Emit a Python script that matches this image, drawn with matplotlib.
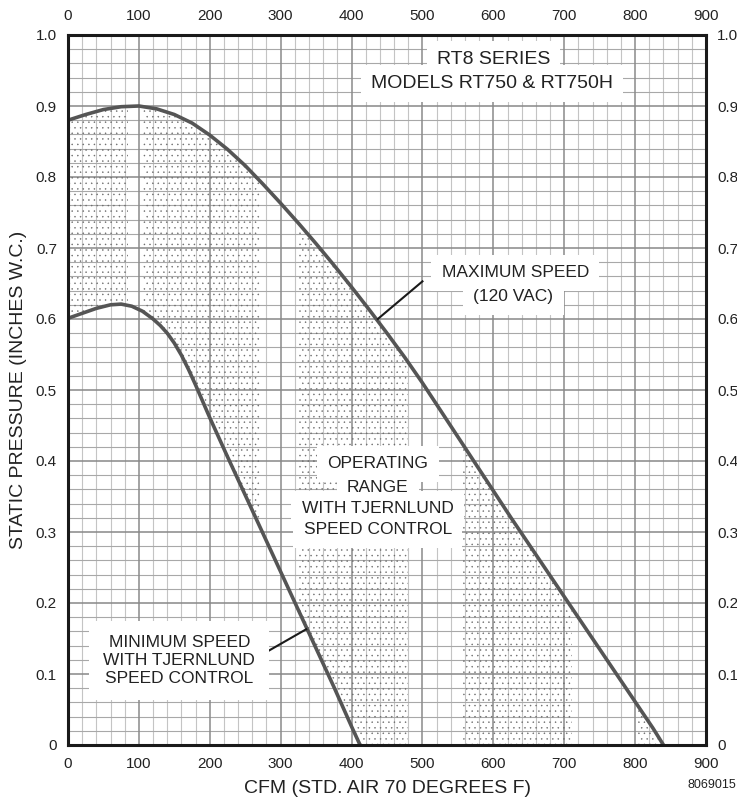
import numpy as np
import matplotlib
matplotlib.use("Agg")
import matplotlib.pyplot as plt
from matplotlib.patches import Polygon, Rectangle

plt.rcParams['font.family'] = ['Liberation Sans', 'DejaVu Sans']
plt.rcParams['hatch.color'] = '#6a6a6a'
plt.rcParams['hatch.linewidth'] = 0.3

# maximum speed curve (120 VAC)
max_cfm = [0, 25, 50, 75, 100, 125, 150, 175, 200, 225, 250, 275, 300, 325, 350,
           375, 400, 425, 450, 475, 500, 525, 550, 575, 600, 625, 650, 675, 700,
           725, 750, 775, 800, 825, 840]
max_sp = [0.880, 0.888, 0.895, 0.899, 0.900, 0.896, 0.888, 0.876, 0.859, 0.839,
          0.816, 0.790, 0.763, 0.735, 0.706, 0.676, 0.645, 0.613, 0.580, 0.546,
          0.510, 0.472, 0.434, 0.396, 0.358, 0.320, 0.283, 0.246, 0.209,
          0.172, 0.135, 0.098, 0.061, 0.024, 0.0]

# minimum speed curve (with speed control)
min_cfm = [0, 20, 40, 60, 75, 90, 105, 120, 130, 140, 150, 160, 170, 180, 190, 200,
           225, 250, 275, 300, 325, 350, 375, 400, 412]
min_sp = [0.601, 0.608, 0.615, 0.620, 0.621, 0.618, 0.611, 0.600, 0.591, 0.580,
          0.566, 0.549, 0.529, 0.507, 0.484, 0.461, 0.406, 0.352, 0.298, 0.244,
          0.190, 0.136, 0.082, 0.026, 0.0]

# vertical bands where the halftone stipple shows up in the scan
stipple_bands = [(0, 85), (106, 271), (324, 480), (557, 711), (803, 850)]

x_major = np.arange(0, 901, 100)
x_minor = np.arange(0, 901, 20)
y_major = np.round(np.arange(0, 1.01, 0.1), 1)
y_minor = np.round(np.arange(0, 1.001, 0.02), 2)
y_labels = ['0'] + [f"{v:.1f}" for v in y_major[1:]]

TXT = '#222222'

fig = plt.figure(figsize=(7.37, 7.98), dpi=100)
ax = fig.add_axes([68 / 737, 53 / 798, 638 / 737, 710 / 798])
ax.set_xlim(0, 900)
ax.set_ylim(0, 1.0)

# grid
for x in x_minor:
    if x % 100:
        ax.axvline(x, color='#c4c4c4', lw=0.8, zorder=0.5)
for y in y_minor:
    if round(y * 100) % 10:
        ax.axhline(y, color='#a8a8a8', lw=0.8, zorder=0.5)
for x in x_major:
    ax.axvline(x, color='#8a8a8a', lw=1.1, zorder=0.6)
for y in y_major:
    ax.axhline(y, color='#888888', lw=1.1, zorder=0.6)

# stippled operating range, only inside the bands
poly_xy = list(zip(max_cfm, max_sp)) + list(zip(min_cfm[::-1], min_sp[::-1]))
for x0, x1 in stipple_bands:
    p = Polygon(poly_xy, closed=True, facecolor='none', edgecolor='#6a6a6a',
                lw=0, hatch='...', zorder=1)
    ax.add_patch(p)
    clip = Rectangle((x0, 0), x1 - x0, 1.0, transform=ax.transData)
    p.set_clip_path(clip)

ax.plot(max_cfm, max_sp, color='#555555', lw=2.6, zorder=3, solid_joinstyle='round')
ax.plot(min_cfm, min_sp, color='#555555', lw=2.6, zorder=3, solid_joinstyle='round')

# pointer lines
ax.plot([437, 500], [0.600, 0.653], color='#1a1a1a', lw=1.5, zorder=4)
ax.plot([336, 280], [0.163, 0.131], color='#1a1a1a', lw=1.5, zorder=4)


def label(x, y, s, size=12.5, pad=0.45):
    # white box first, text on top so stacked boxes don't hide each other
    ax.text(x, y, s, ha='center', va='center', fontsize=size, color='none', zorder=4.5,
            bbox=dict(boxstyle=f'square,pad={pad}', facecolor='white', edgecolor='none'))
    ax.text(x, y, s, ha='center', va='center', fontsize=size, color=TXT, zorder=5)


label(600, 0.966, 'RT8 SERIES', size=14, pad=0.5)
label(598, 0.932, 'MODELS RT750 & RT750H', size=14, pad=0.5)

label(631, 0.665, 'MAXIMUM SPEED', pad=0.6)
label(628, 0.631, '(120 VAC)', pad=0.6)

label(437, 0.396, 'OPERATING', pad=0.6)
label(437, 0.363, 'RANGE', pad=0.6)
label(437, 0.333, 'WITH TJERNLUND', pad=0.6)
label(437, 0.303, 'SPEED CONTROL', pad=0.6)

ax.text(157, 0.119, 'MINIMUM SPEED\nWITH TJERNLUND\nSPEED CONTROL', ha='center', va='center',
        fontsize=12.5, color=TXT, linespacing=1.25, zorder=5,
        bbox=dict(boxstyle='square,pad=0.8', facecolor='white', edgecolor='none'))

# axes / ticks
ax.set_xticks(x_major)
ax.set_xticklabels([str(v) for v in x_major])
ax.set_yticks(y_major)
ax.set_yticklabels(y_labels)
ax.tick_params(axis='both', which='both', length=0, labelsize=11, labelcolor=TXT,
               top=True, right=True, labeltop=True, labelright=True)
ax.tick_params(axis='x', pad=9)
ax.tick_params(axis='y', pad=8)
for sp in ax.spines.values():
    sp.set_linewidth(2.2)
    sp.set_color('#1a1a1a')
    sp.set_zorder(6)

ax.set_xlabel('CFM (STD. AIR 70 DEGREES F)', fontsize=14, color=TXT, labelpad=6)
ax.set_ylabel('STATIC PRESSURE (INCHES W.C.)', fontsize=14, color=TXT, labelpad=6)
fig.text(0.999, 0.009, '8069015', ha='right', va='bottom', fontsize=9, color=TXT)

fig.savefig('out.png', dpi=100)
